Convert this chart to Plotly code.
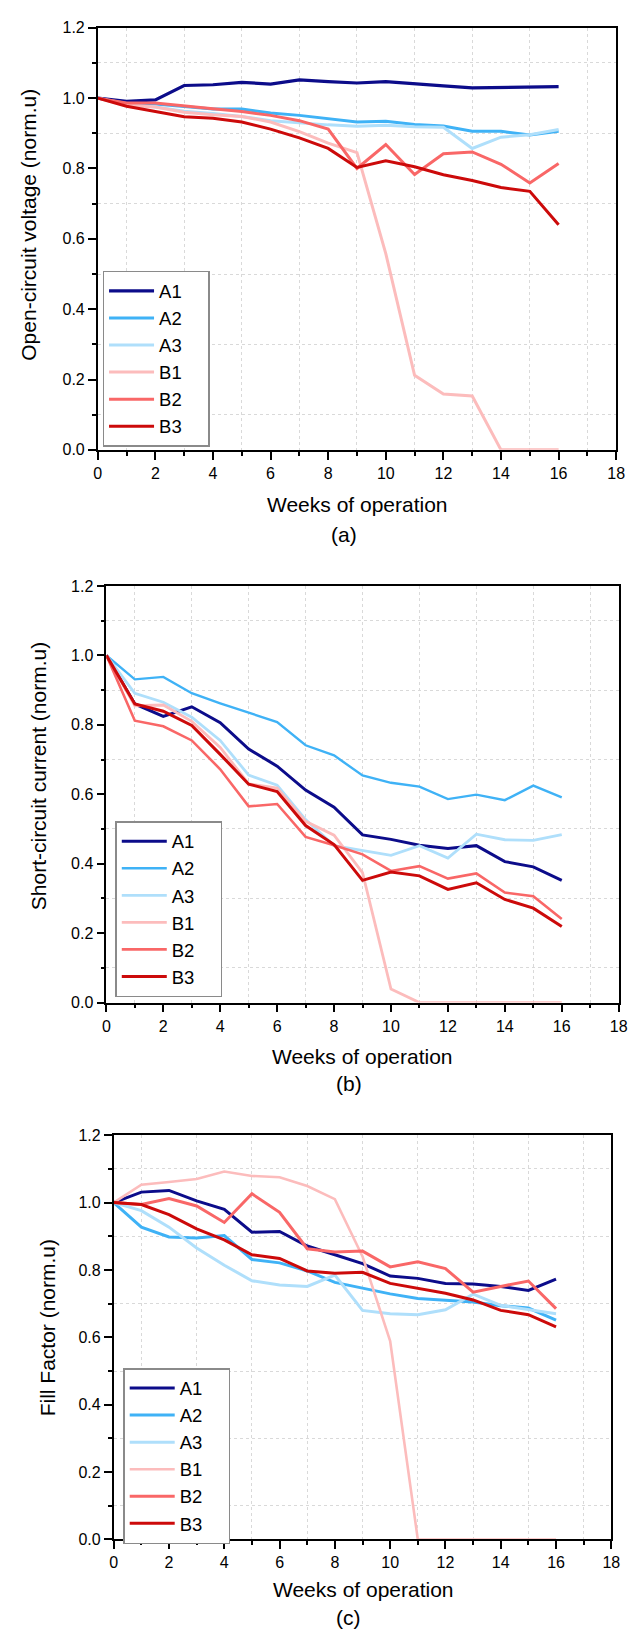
import plotly.graph_objects as go

W, H = 636, 1639

weeks = list(range(17))
series_names = ["A1", "A2", "A3", "B1", "B2", "B3"]
colors = ["#0c0c8a", "#3fb2f6", "#afdffb", "#fcbcbc", "#f96767", "#cc0a0a"]

# (a) Open-circuit voltage
voc_A1 = [1.0, 0.991, 0.995, 1.036, 1.038, 1.045, 1.040, 1.052, 1.047, 1.043, 1.047, 1.040, 1.035, 1.029, 1.030, 1.031, 1.033]
voc_A2 = [1.0, 0.985, 0.983, 0.975, 0.969, 0.969, 0.958, 0.951, 0.941, 0.932, 0.934, 0.925, 0.921, 0.906, 0.906, 0.895, 0.906]
voc_A3 = [1.0, 0.982, 0.975, 0.963, 0.956, 0.948, 0.936, 0.929, 0.924, 0.920, 0.923, 0.919, 0.917, 0.857, 0.889, 0.896, 0.911]
voc_B1 = [1.0, 0.980, 0.975, 0.960, 0.953, 0.948, 0.932, 0.905, 0.872, 0.845, 0.558, 0.212, 0.159, 0.153, 0.0, 0.0, 0.0]
voc_B2 = [1.0, 0.986, 0.986, 0.977, 0.970, 0.962, 0.951, 0.936, 0.912, 0.800, 0.868, 0.783, 0.842, 0.847, 0.812, 0.759, 0.814]
voc_B3 = [1.0, 0.977, 0.962, 0.947, 0.943, 0.932, 0.912, 0.887, 0.857, 0.803, 0.822, 0.805, 0.782, 0.766, 0.746, 0.735, 0.640]

# (b) Short-circuit current
isc_A1 = [1.0, 0.860, 0.824, 0.852, 0.806, 0.730, 0.681, 0.612, 0.563, 0.483, 0.470, 0.453, 0.444, 0.452, 0.406, 0.391, 0.352]
isc_A2 = [1.0, 0.931, 0.938, 0.891, 0.862, 0.834, 0.808, 0.741, 0.712, 0.654, 0.633, 0.622, 0.586, 0.599, 0.583, 0.625, 0.591]
isc_A3 = [1.0, 0.891, 0.865, 0.822, 0.755, 0.655, 0.626, 0.527, 0.452, 0.438, 0.424, 0.452, 0.416, 0.485, 0.469, 0.467, 0.484]
isc_B1 = [1.0, 0.855, 0.857, 0.810, 0.735, 0.630, 0.618, 0.522, 0.482, 0.374, 0.039, 0.0, 0.0, 0.0, 0.0, 0.0, 0.0]
isc_B2 = [1.0, 0.812, 0.796, 0.755, 0.672, 0.565, 0.572, 0.477, 0.453, 0.427, 0.379, 0.393, 0.357, 0.372, 0.317, 0.306, 0.241]
isc_B3 = [1.0, 0.860, 0.839, 0.798, 0.715, 0.629, 0.608, 0.510, 0.455, 0.352, 0.376, 0.365, 0.326, 0.345, 0.297, 0.272, 0.219]

# (c) Fill factor
ff_A1 = [1.0, 1.031, 1.036, 1.005, 0.980, 0.912, 0.914, 0.871, 0.845, 0.819, 0.782, 0.775, 0.760, 0.758, 0.751, 0.739, 0.773]
ff_A2 = [1.0, 0.927, 0.898, 0.895, 0.902, 0.831, 0.821, 0.797, 0.763, 0.746, 0.729, 0.715, 0.709, 0.705, 0.694, 0.687, 0.651]
ff_A3 = [1.0, 0.976, 0.927, 0.865, 0.814, 0.768, 0.755, 0.751, 0.785, 0.680, 0.670, 0.667, 0.682, 0.728, 0.695, 0.682, 0.670]
ff_B1 = [1.0, 1.053, 1.061, 1.070, 1.092, 1.079, 1.075, 1.049, 1.010, 0.840, 0.589, 0.0, 0.0, 0.0, 0.0, 0.0, 0.0]
ff_B2 = [1.0, 0.994, 1.012, 0.990, 0.941, 1.026, 0.971, 0.863, 0.853, 0.856, 0.809, 0.824, 0.804, 0.734, 0.751, 0.767, 0.685]
ff_B3 = [1.0, 0.994, 0.964, 0.922, 0.889, 0.845, 0.834, 0.797, 0.790, 0.793, 0.760, 0.746, 0.731, 0.711, 0.680, 0.667, 0.631]

panels = [
    dict(data=[voc_A1, voc_A2, voc_A3, voc_B1, voc_B2, voc_B3],
         widths=[3.2, 3, 3, 3, 3, 3],
         ytitle="Open-circuit voltage (norm.u)", tag="(a)",
         box=(95.7, 625.0, 20.0, 446.5),
         legend_xy=(100.6, 265.7),
         ytitle_xy=(25, 218.5), xtitle_xy=(360.5, 501.5), tag_xy=(347, 532)),
    dict(data=[isc_A1, isc_A2, isc_A3, isc_B1, isc_B2, isc_B3],
         widths=[3, 2.4, 2.8, 2.8, 2.6, 3],
         ytitle="Short-circuit current (norm.u)", tag="(b)",
         box=(104.5, 627.5, 584.0, 1005.0),
         legend_xy=(113.6, 821.7),
         ytitle_xy=(35.5, 776.5), xtitle_xy=(366, 1059), tag_xy=(352, 1087)),
    dict(data=[ff_A1, ff_A2, ff_A3, ff_B1, ff_B2, ff_B3],
         widths=[3, 3, 3, 2.6, 3, 3],
         ytitle="Fill Factor (norm.u)", tag="(c)",
         box=(112.0, 620.0, 1139.0, 1547.5),
         legend_xy=(121.7, 1374.3),
         ytitle_xy=(44.6, 1333.5), xtitle_xy=(366.5, 1598), tag_xy=(352, 1626)),
]

FONT = "Liberation Sans, Arial, sans-serif"
PAD = "\u00a0\u00a0\u00a0\u00a0"

fig = go.Figure()
layout = dict(width=W, height=H, margin=dict(l=0, r=0, t=0, b=0),
              paper_bgcolor="white", plot_bgcolor="white",
              font=dict(family=FONT, color="black"), annotations=[])

def px(x):
    return x / W

def py(y):
    return 1 - y / H

for i, p in enumerate(panels):
    k = "" if i == 0 else str(i + 1)
    leg = "legend" if i == 0 else "legend" + str(i + 1)
    for name, col, vals, lw in zip(series_names, colors, p["data"], p["widths"]):
        fig.add_trace(go.Scatter(x=weeks, y=vals, mode="lines", name=name + PAD,
                                 line=dict(color=col, width=lw),
                                 xaxis="x" + k, yaxis="y" + k, legend=leg))
    x0, x1, y0, y1 = p["box"]
    axcommon = dict(showline=True, linecolor="black", linewidth=1.6, mirror=True,
                    ticks="outside", ticklen=8, tickwidth=1.5, tickcolor="black",
                    tickfont=dict(size=16, family=FONT, color="black"),
                    showgrid=False, zeroline=False)
    layout["xaxis" + k] = dict(axcommon, domain=[px(x0), px(x1)], anchor="y" + k,
                               range=[0, 18], dtick=2, tick0=0,
                               minor=dict(dtick=1, ticklen=4, tickwidth=1.5, tickcolor="black",
                                          ticks="outside", showgrid=True,
                                          gridcolor="#d9d9d9", griddash="dot", gridwidth=1))
    layout["yaxis" + k] = dict(axcommon, domain=[py(y1), py(y0)], anchor="x" + k,
                               range=[0, 1.2], dtick=0.2, tick0=0, tickformat=".1f",
                               minor=dict(dtick=0.1, ticklen=4, tickwidth=1.5, tickcolor="black",
                                          ticks="outside", showgrid=True,
                                          gridcolor="#d9d9d9", griddash="dot", gridwidth=1))
    lx, ly = p["legend_xy"]
    layout[leg] = dict(x=px(lx), y=py(ly), xanchor="left", yanchor="top",
                       bgcolor="white", bordercolor="#8a8a8a", borderwidth=1.5,
                       font=dict(size=18.5, family=FONT, color="black"),
                       itemwidth=45, tracegroupgap=0)
    tx, ty = p["ytitle_xy"]
    layout["annotations"].append(dict(text=p["ytitle"], x=px(tx), y=py(ty), xref="paper", yref="paper",
                                      xanchor="center", yanchor="middle", textangle=-90,
                                      showarrow=False, font=dict(size=21, family=FONT)))
    tx, ty = p["xtitle_xy"]
    layout["annotations"].append(dict(text="Weeks of operation", x=px(tx), y=py(ty), xref="paper", yref="paper",
                                      xanchor="center", yanchor="middle",
                                      showarrow=False, font=dict(size=21, family=FONT)))
    tx, ty = p["tag_xy"]
    layout["annotations"].append(dict(text=p["tag"], x=px(tx), y=py(ty), xref="paper", yref="paper",
                                      xanchor="center", yanchor="middle",
                                      showarrow=False, font=dict(size=21, family=FONT)))

fig.update_layout(**layout)
fig.write_html("out.html")
